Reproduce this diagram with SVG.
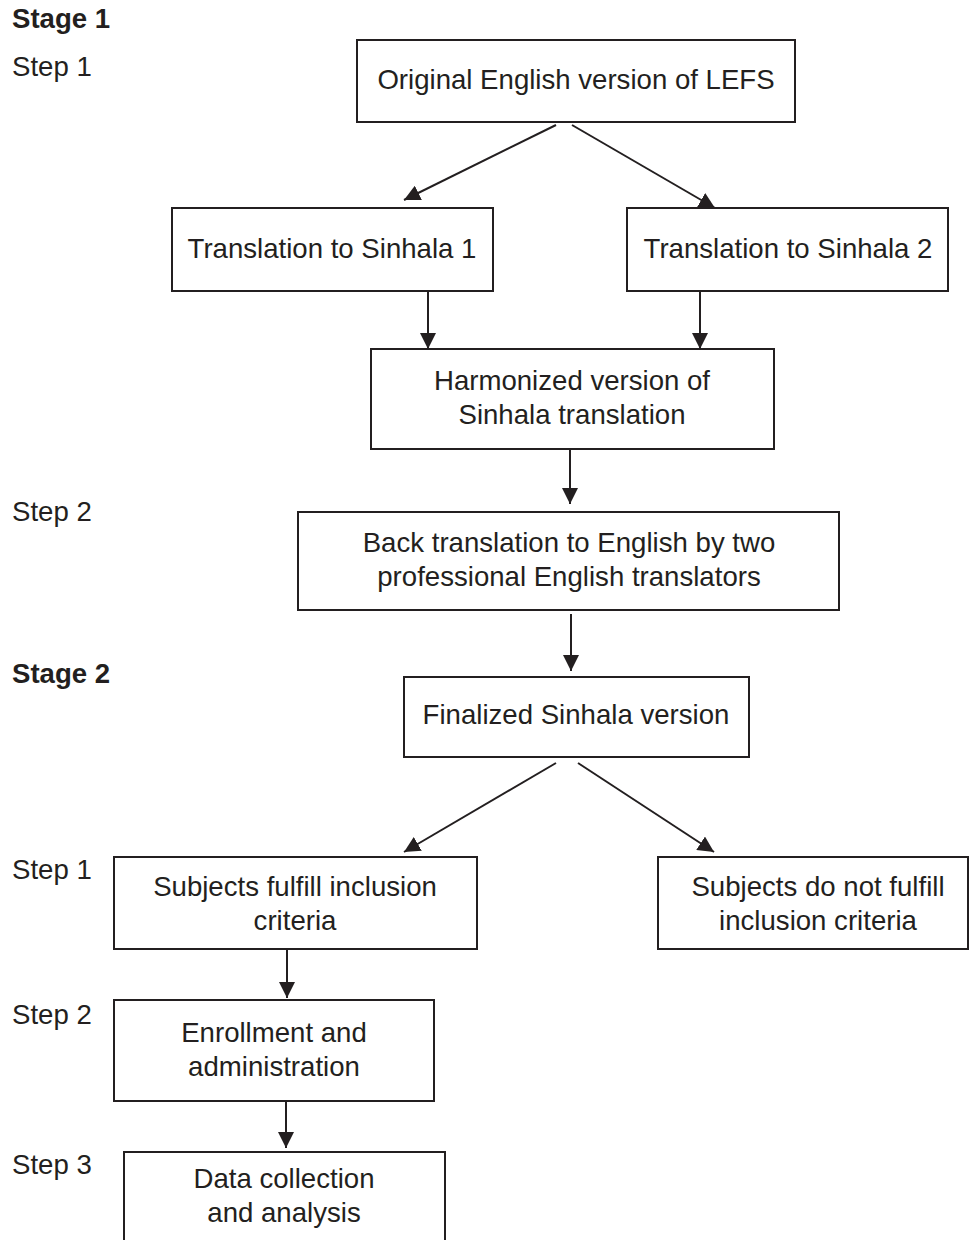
<svg xmlns="http://www.w3.org/2000/svg" width="969" height="1240" viewBox="0 0 969 1240">
<style>
.box{fill:#fff;stroke:#231f20;stroke-width:2}
.t{font-family:"Liberation Sans",Arial,sans-serif;font-size:27.6px;fill:#231f20}
.c{text-anchor:middle}
.b{font-weight:bold}
.ln{stroke:#231f20;stroke-width:2;fill:none;marker-end:url(#ah)}
</style>
<defs>
<marker id="ah" viewBox="0 0 16 16" refX="16" refY="8" markerWidth="16" markerHeight="16" markerUnits="userSpaceOnUse" orient="auto">
<path d="M0,0 L16,8 L0,16 z" fill="#231f20"/>
</marker>
</defs>
<rect width="969" height="1240" fill="#fff"/>
<g id="labels">
<text class="t b" x="12" y="28">Stage 1</text>
<text class="t" x="12" y="76">Step 1</text>
<text class="t" x="12" y="521">Step 2</text>
<text class="t b" x="12" y="683">Stage 2</text>
<text class="t" x="12" y="879">Step 1</text>
<text class="t" x="12" y="1024">Step 2</text>
<text class="t" x="12" y="1174">Step 3</text>
</g>
<g id="connectors">
<line class="ln" x1="556" y1="125" x2="404" y2="200"/>
<line class="ln" x1="572" y1="125" x2="715" y2="208"/>
<line class="ln" x1="428" y1="291" x2="428" y2="349"/>
<line class="ln" x1="700" y1="291" x2="700" y2="349"/>
<line class="ln" x1="570" y1="449" x2="570" y2="504"/>
<line class="ln" x1="571" y1="614" x2="571" y2="671"/>
<line class="ln" x1="556" y1="763" x2="404" y2="852"/>
<line class="ln" x1="578" y1="763" x2="714" y2="852"/>
<line class="ln" x1="287" y1="949" x2="287" y2="998"/>
<line class="ln" x1="286" y1="1101" x2="286" y2="1148"/>
</g>
<g id="n1"><rect class="box" x="357" y="40" width="438" height="82"/><text class="t c" x="576" y="89">Original English version of LEFS</text></g>
<g id="n2"><rect class="box" x="172" y="208" width="321" height="83"/><text class="t c" x="332" y="258">Translation to Sinhala 1</text></g>
<g id="n3"><rect class="box" x="627" y="208" width="321" height="83"/><text class="t c" x="788" y="258">Translation to Sinhala 2</text></g>
<g id="n4"><rect class="box" x="371" y="349" width="403" height="100"/><text class="t c" x="572" y="390">Harmonized version of</text><text class="t c" x="572" y="424">Sinhala translation</text></g>
<g id="n5"><rect class="box" x="298" y="512" width="541" height="98"/><text class="t c" x="569" y="552">Back translation to English by two</text><text class="t c" x="569" y="586">professional English translators</text></g>
<g id="n6"><rect class="box" x="404" y="677" width="345" height="80"/><text class="t c" x="576" y="724">Finalized Sinhala version</text></g>
<g id="n7"><rect class="box" x="114" y="857" width="363" height="92"/><text class="t c" x="295" y="896">Subjects fulfill inclusion</text><text class="t c" x="295" y="930">criteria</text></g>
<g id="n8"><rect class="box" x="658" y="857" width="310" height="92"/><text class="t c" x="818" y="896">Subjects do not fulfill</text><text class="t c" x="818" y="930">inclusion criteria</text></g>
<g id="n9"><rect class="box" x="114" y="1000" width="320" height="101"/><text class="t c" x="274" y="1042">Enrollment and</text><text class="t c" x="274" y="1076">administration</text></g>
<g id="n10"><rect class="box" x="124" y="1152" width="321" height="100"/><text class="t c" x="284" y="1188">Data collection</text><text class="t c" x="284" y="1222">and analysis</text></g>
</svg>
